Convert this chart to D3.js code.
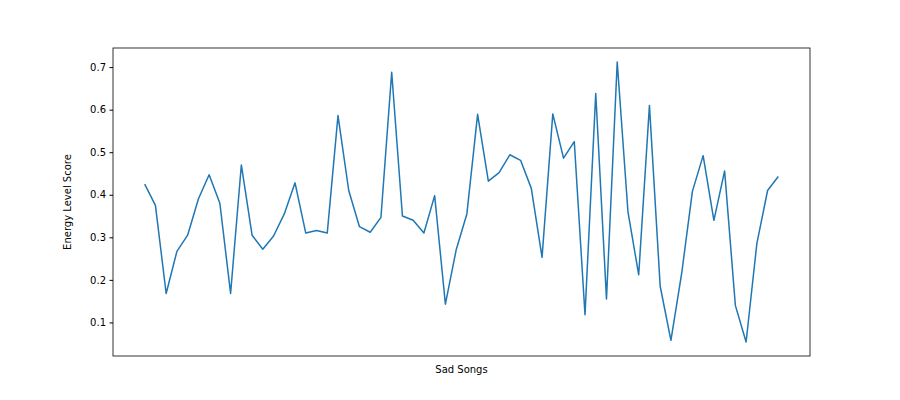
<!DOCTYPE html>
<html>
<head>
<meta charset="utf-8">
<script src="https://cdn.jsdelivr.net/npm/d3@7"></script>
<style>
  body { margin: 0; background: #fff; }
  text { font-family: "DejaVu Sans", sans-serif; }
</style>
</head>
<body>
<div id="chart"></div>
<script>
// Energy level per sad song
const energy = [
  0.425, 0.375, 0.168, 0.267, 0.305, 0.39, 0.447, 0.38, 0.168, 0.47,
  0.305, 0.272, 0.303, 0.355, 0.428, 0.31, 0.316, 0.31, 0.586, 0.41,
  0.325, 0.312, 0.347, 0.688, 0.35, 0.34, 0.31, 0.398, 0.143, 0.27,
  0.355, 0.589, 0.432, 0.452, 0.494, 0.481, 0.415, 0.253, 0.59, 0.486,
  0.525, 0.118, 0.638, 0.155, 0.712, 0.36, 0.212, 0.61, 0.185, 0.058,
  0.215, 0.408, 0.492, 0.34, 0.456, 0.14, 0.054, 0.285, 0.41, 0.443
];
const yTicks = [0.1, 0.2, 0.3, 0.4, 0.5, 0.6, 0.7];
const xLabel = "Sad Songs";
const yLabel = "Energy Level Score";

const W = 900, H = 400;
const mLeft = 113, mRight = 810, mTop = 48, mBottom = 356;

const svg = d3.select("#chart").append("svg")
  .attr("width", W).attr("height", H);

// matplotlib-like 5% margins
const n = energy.length;
const xPad = (n - 1) * 0.05;
const x = d3.scaleLinear().domain([-xPad, n - 1 + xPad]).range([mLeft, mRight]);
const yMin = d3.min(energy), yMax = d3.max(energy);
const yPad = (yMax - yMin) * 0.05;
const y = d3.scaleLinear().domain([yMin - yPad, yMax + yPad]).range([mBottom, mTop]);

const yAxis = svg.append("g")
  .attr("transform", `translate(${mLeft},0)`)
  .call(d3.axisLeft(y).tickValues(yTicks).tickFormat(d3.format(".1f")).tickSize(3.5).tickPadding(3.5));
yAxis.select(".domain").remove();
yAxis.selectAll("text").attr("font-size", 10).attr("fill", "#000");
yAxis.selectAll("line").attr("stroke", "#000");

svg.append("path")
  .datum(energy)
  .attr("fill", "none")
  .attr("stroke", "#1f77b4")
  .attr("stroke-width", 1.5)
  .attr("stroke-linejoin", "round")
  .attr("d", d3.line().x((d, i) => x(i)).y(d => y(d)));

svg.append("rect")
  .attr("x", mLeft).attr("y", mTop)
  .attr("width", mRight - mLeft).attr("height", mBottom - mTop)
  .attr("fill", "none").attr("stroke", "#000").attr("stroke-width", 0.8);

svg.append("text")
  .attr("x", (mLeft + mRight) / 2).attr("y", 373)
  .attr("text-anchor", "middle").attr("font-size", 10)
  .text(xLabel);

svg.append("text")
  .attr("transform", `translate(71,${(mTop + mBottom) / 2}) rotate(-90)`)
  .attr("text-anchor", "middle").attr("font-size", 10)
  .text(yLabel);
</script>
</body>
</html>
